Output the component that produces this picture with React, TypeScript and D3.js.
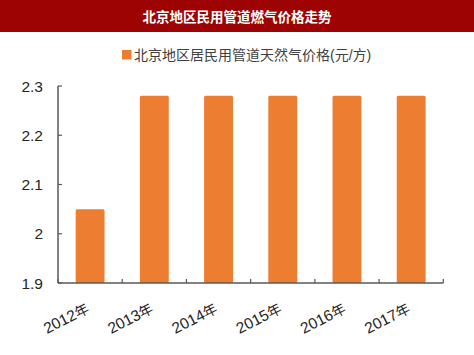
import React from "react";
import * as d3 from "d3";

const categories = ["2012年", "2013年", "2014年", "2015年", "2016年", "2017年"];
const values = [2.05, 2.28, 2.28, 2.28, 2.28, 2.28];
const yTicks = [1.9, 2, 2.1, 2.2, 2.3];
const title = "北京地区民用管道燃气价格走势";
const seriesName = "北京地区居民用管道天然气价格(元/方)";

export default function App() {
  const W = 474, H = 355;
  const x0 = 58, x1 = 443.3, yTop = 86, yBot = 283;
  const x = d3.scaleBand<string>().domain(categories).range([x0, x1]).paddingInner(0.55).paddingOuter(0.275);
  const xb = d3.scaleBand<string>().domain(categories).range([x0, x1]);
  const y = d3.scaleLinear().domain([1.9, 2.3]).range([yBot, yTop]);
  const axisColor = "#595959";
  const font = "'Liberation Sans', Arial, 'Noto Sans CJK SC', sans-serif";
  const boundaries = categories.map((c) => xb(c)!).concat([x1]);
  return (
    <svg width={W} height={H} style={{ position: "absolute", left: 0, top: 0, display: "block" }}>
      <rect x={0} y={0} width={W} height={H} fill="#ffffff" />
      <rect x={0} y={0} width={W} height={32} fill="#9E0303" />
      <text x={237} y={21.5} fill="#ffffff" fontSize={13.5} fontWeight="bold" textAnchor="middle"
        fontFamily="'Noto Sans CJK SC', sans-serif">{title}</text>
      <rect x={122} y={50} width={9.5} height={9.5} fill="#ED7D31" />
      <text x={134} y={60} fill="#404040" fontSize={14} fontFamily={font}>{seriesName}</text>
      {values.map((v, i) => (
        <rect key={i} x={x(categories[i])} y={y(v)} width={x.bandwidth()} height={yBot - y(v)} fill="#ED7D31" rx={1.5} />
      ))}
      <line x1={x0} x2={x0} y1={yTop} y2={yBot} stroke={axisColor} strokeWidth={1.5} />
      <line x1={x0} x2={x1} y1={yBot} y2={yBot} stroke={axisColor} strokeWidth={1.5} />
      {yTicks.map((t) => (
        <g key={t}>
          <line x1={x0} x2={x0 + 4} y1={y(t)} y2={y(t)} stroke={axisColor} strokeWidth={1.2} />
          <text x={43} y={y(t)} dy="0.36em" textAnchor="end" fontSize={15.5} fill="#262626" fontFamily={font}>{d3.format("")(t)}</text>
        </g>
      ))}
      {boundaries.map((b, i) => (
        <line key={i} x1={b} x2={b} y1={yBot} y2={yBot - 4} stroke={axisColor} strokeWidth={1.2} />
      ))}
      {categories.map((c) => {
        const cx = xb(c)! + xb.bandwidth() / 2;
        return (
          <text key={c} transform={`translate(${cx},312) rotate(-27)`} textAnchor="end" fontSize={15.5} fill="#262626" fontFamily={font}>
            {c.replace("年", "")}<tspan fontSize={14} fontFamily="'Noto Sans CJK SC', sans-serif">年</tspan>
          </text>
        );
      })}
    </svg>
  );
}
